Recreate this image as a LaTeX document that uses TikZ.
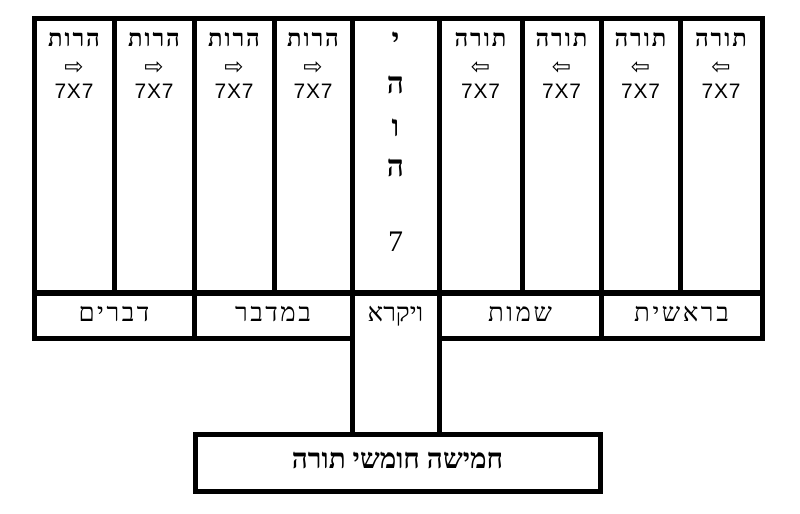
\documentclass[tikz,border=0pt]{standalone}
\usepackage{fontspec}
\setmainfont{Liberation Serif}
\newfontfamily\hebfont[Script=Hebrew]{Liberation Serif}
\newfontfamily\hebspaced[Script=Hebrew,LetterSpace=10]{Liberation Serif}
\newfontfamily\hebhdr[Script=Hebrew,LetterSpace=8]{Liberation Serif}
\newfontfamily\arrfont{DejaVu Sans}
\newfontfamily\numfont[LetterSpace=4]{Liberation Sans}
\TeXXeTstate=1
\tikzset{
  frame/.style={line width=5bp, line cap=rect, line join=miter},
  hdr/.style={anchor=base, inner sep=0pt, font=\hebhdr\bfseries\fontsize{24}{27}\selectfont},
  arr/.style={anchor=center, inner sep=0pt, font=\arrfont\fontsize{23}{26}\selectfont},
  num/.style={anchor=base, inner sep=0pt, font=\numfont\fontsize{21}{24}\selectfont},
  mid/.style={anchor=base, inner sep=0pt, font=\hebfont\bfseries\fontsize{30}{34}\selectfont},
  seven/.style={anchor=base, inner sep=0pt, font=\fontsize{30}{34}\selectfont},
  book/.style={anchor=base, inner sep=0pt, font=\hebspaced\fontsize{26}{30}\selectfont},
  title/.style={anchor=base, inner sep=0pt, font=\hebfont\bfseries\fontsize{28}{32}\selectfont},
  plainbook/.style={anchor=base, inner sep=0pt, font=\hebfont\fontsize{26}{30}\selectfont}
}
\begin{document}
\begin{tikzpicture}[x=1bp,y=-1bp]
\useasboundingbox (0,0) rectangle (800,514);
% outer frame and grid
\draw[frame] (352,338) -- (34,338) -- (34,19) -- (762,19) -- (762,338) -- (439,338);
\draw[frame] (34,293) -- (762,293);
\foreach \x in {114,274,522,680} \draw[frame] (\x,19) -- (\x,293);
\foreach \x in {194,601} \draw[frame] (\x,19) -- (\x,338);
\foreach \x in {352,439} \draw[frame] (\x,19) -- (\x,434);
\draw[frame] (195,434) rectangle (600,491);
% header cells
\foreach \x/\n in {74/a,154/b,234/c,313/d}{
  \node[hdr] (h\n) at (\x,47) {\beginR הרות\endR};
  \node[arr] (r\n) at (\x,68) {⇨};
  \node[num] (n\n) at (\x,99) {7X7};
}
\foreach \x/\n in {480.5/e,561.5/f,640.5/g,721/h}{
  \node[hdr] (h\n) at (\x,47) {\beginR תורה\endR};
  \node[arr] (r\n) at (\x,68) {⇦};
  \node[num] (n\n) at (\x,99) {7X7};
}
% middle column
\node[mid] (m1) at (395.5,50) {\beginR י\endR};
\node[mid] (m2) at (395.5,94) {\beginR ה\endR};
\node[mid] (m3) at (395.5,137) {\beginR ו\endR};
\node[mid] (m4) at (395.5,177) {\beginR ה\endR};
\node[seven] (m5) at (395.5,252) {7};
% book names
\node[book] (b1) at (114,321) {\beginR דברים\endR};
\node[book] (b2) at (273,321) {\beginR במדבר\endR};
\node[plainbook] (b3) at (395.5,321) {\beginR ויקרא\endR};
\node[book] (b4) at (520,321) {\beginR שמות\endR};
\node[book] (b5) at (681.5,321) {\beginR בראשית\endR};
% bottom title
\node[title] (t) at (397.5,468) {\beginR חמישה חומשי תורה\endR};
\end{tikzpicture}
\end{document}
